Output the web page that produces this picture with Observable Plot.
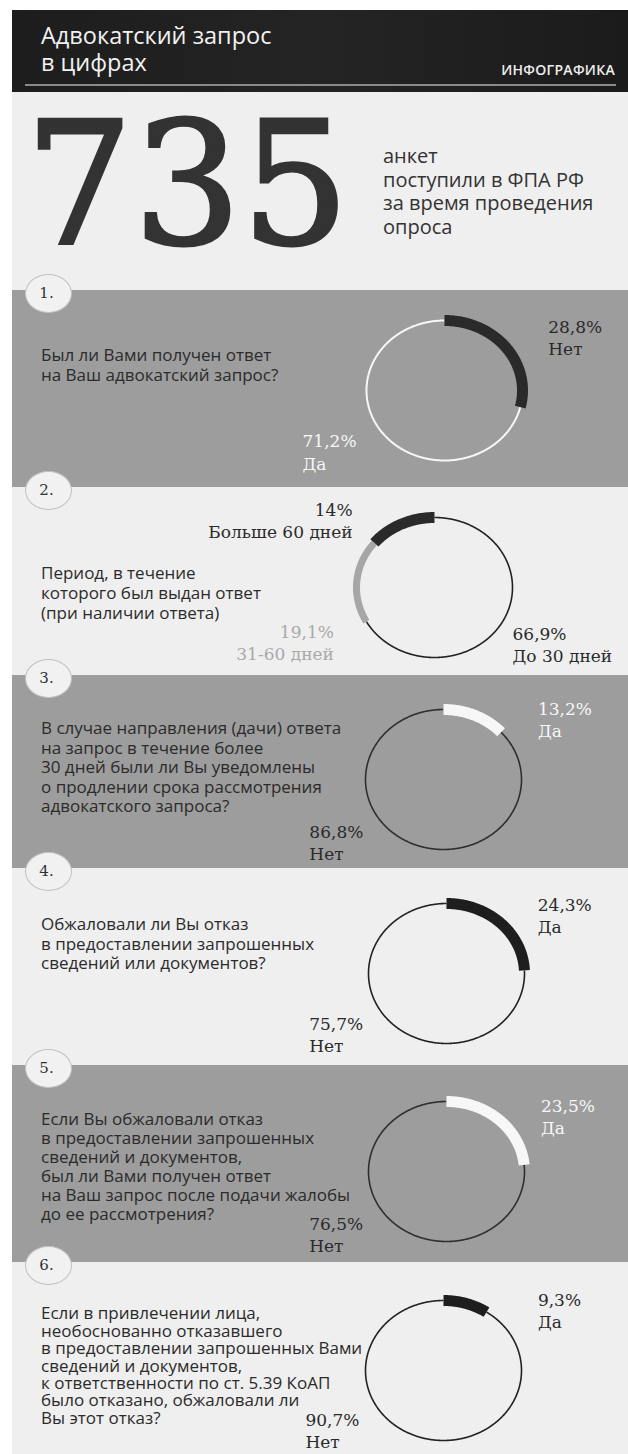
<!DOCTYPE html>
<html><head><meta charset="utf-8">
<script src="https://cdn.jsdelivr.net/npm/d3@7"></script>
<script src="https://cdn.jsdelivr.net/npm/@observablehq/plot@0.6"></script>
<style>
html,body{margin:0;padding:0;background:#fff;}
#page{position:relative;width:628px;height:1454px;overflow:hidden;background:#fff;font-family:"Open Sans",sans-serif;}
.badge{position:absolute;width:47px;height:39px;border-radius:50%;background:#f1f1f1;border:1.5px solid #c2c2c2;
  font-family:"DejaVu Serif",serif;font-size:15px;color:#333;display:flex;align-items:center;justify-content:center;z-index:5;box-sizing:border-box;padding-right:3px;}
.q{position:absolute;left:41px;font-size:17px;color:#2b2b2b;white-space:pre;z-index:3;}
</style></head><body><div id="page"></div>
<script>
// ---------- data ----------
const headerTitle = ["Адвокатский запрос", "в цифрах"];
const headerTag = "ИНФОГРАФИКА";
const totalForms = 735;
const totalCaption = ["анкет", "поступили в ФПА РФ", "за время проведения", "опроса"];
const questionNumbers = ["1.", "2.", "3.", "4.", "5.", "6."];
const questionTexts = [
  ["Был ли Вами получен ответ", "на Ваш адвокатский запрос?"],
  ["Период, в течение", "которого был выдан ответ", "(при наличии ответа)"],
  ["В случае направления (дачи) ответа", "на запрос в течение более", "30 дней были ли Вы уведомлены", "о продлении срока рассмотрения", "адвокатского запроса?"],
  ["Обжаловали ли Вы отказ", "в предоставлении запрошенных", "сведений или документов?"],
  ["Если Вы обжаловали отказ", "в предоставлении запрошенных", "сведений и документов,", "был ли Вами получен ответ", "на Ваш запрос после подачи жалобы", "до ее рассмотрения?"],
  ["Если в привлечении лица,", "необоснованно отказавшего", "в предоставлении запрошенных Вами", "сведений и документов,", "к ответственности по ст. 5.39 КоАП", "было отказано, обжаловали ли", "Вы этот отказ?"]
];
const answerLabels = [
  ["Нет", "Да"],
  ["Больше 60 дней", "31-60 дней", "До 30 дней"],
  ["Да", "Нет"],
  ["Да", "Нет"],
  ["Да", "Нет"],
  ["Да", "Нет"]
];
const answerValues = [
  [28.8, 71.2],
  [14, 19.1, 66.9],
  [13.2, 86.8],
  [24.3, 75.7],
  [23.5, 76.5],
  [9.3, 90.7]
];

// ---------- layout & styles ----------
const DARK = "#2a2a2a", WHITE = "#f7f7f7", MID = "#9d9d9d", LIGHT = "#efefef";
const layout = [
  {top:290, bottom:487, bg:MID,   cx:444, cy:390, textY:355, lh:20, dir:1,
   ring:[{color:DARK,width:11},{color:WHITE,width:2}],
   labels:[{x:1.33,y:0.77,anchor:"start",fill:DARK},{x:-1.82,y:-0.87,anchor:"start",fill:WHITE}]},
  {top:487, bottom:675, bg:LIGHT, cx:434, cy:587, textY:573, lh:20, dir:-1,
   ring:[{color:DARK,width:11},{color:"#a6a6a6",width:7},{color:"#222",width:1.6}],
   labels:[{x:-1.05,y:0.97,anchor:"end",fill:DARK},{x:-1.29,y:-0.78,anchor:"end",fill:"#a9a9a9"},{x:1.0,y:-0.8,anchor:"start",fill:DARK}]},
  {top:675, bottom:868, bg:MID,   cx:443, cy:779, textY:728, lh:19.4, dir:1,
   ring:[{color:WHITE,width:11},{color:"#2f2f2f",width:1.6}],
   labels:[{x:1.21,y:0.86,anchor:"start",fill:WHITE},{x:-1.72,y:-0.89,anchor:"start",fill:DARK}]},
  {top:868, bottom:1065, bg:LIGHT, cx:446, cy:973, textY:924, lh:19.4, dir:1,
   ring:[{color:"#1e1e1e",width:11},{color:"#222",width:1.6}],
   labels:[{x:1.17,y:0.84,anchor:"start",fill:DARK},{x:-1.76,y:-0.86,anchor:"start",fill:DARK}]},
  {top:1065, bottom:1262, bg:MID, cx:446, cy:1171, textY:1118, lh:19, dir:1,
   ring:[{color:WHITE,width:11},{color:"#2f2f2f",width:1.6}],
   labels:[{x:1.21,y:0.79,anchor:"start",fill:WHITE},{x:-1.76,y:-0.89,anchor:"start",fill:DARK}]},
  {top:1262, bottom:1454, bg:LIGHT, cx:443, cy:1370, textY:1313, lh:17.4, dir:1,
   ring:[{color:"#1e1e1e",width:11},{color:"#222",width:1.6}],
   labels:[{x:1.21,y:0.86,anchor:"start",fill:DARK},{x:-1.77,y:-0.85,anchor:"start",fill:DARK}]}
];
const RX = 78, RY = 70, LEFT = 12;

const page = document.getElementById("page");
function el(tag, css, txt) { const e = document.createElement(tag); e.style.cssText = css; if (txt != null) e.textContent = txt; page.appendChild(e); return e; }

// header
el("div", `position:absolute;left:${LEFT}px;top:10px;width:${628-LEFT}px;height:82px;background:linear-gradient(90deg,#1d1d1d,#242424 50%,#1b1b1b);`);
el("div", `position:absolute;left:41px;top:22px;font-size:23.5px;line-height:27px;color:#f2f2f2;white-space:pre;`, headerTitle.join("\n"));
el("div", `position:absolute;right:13px;top:60px;font-size:14px;line-height:20px;font-weight:600;color:#eeeeee;letter-spacing:0.3px;`, headerTag);
el("div", `position:absolute;left:25px;top:84px;width:591px;height:2px;background:#8a8a8a;`);

// intro
el("div", `position:absolute;left:${LEFT}px;top:92px;width:${628-LEFT}px;height:198px;background:${LIGHT};`);
el("div", `position:absolute;left:25px;top:100px;font-family:'DejaVu Serif',serif;font-size:170px;line-height:170px;color:#333;letter-spacing:0px;-webkit-text-stroke:3px #333;`, String(totalForms));
el("div", `position:absolute;left:383px;top:${156-11.75}px;font-size:20px;line-height:23.5px;color:#333;white-space:pre;`, totalCaption.join("\n"));

const fmt = v => String(v).replace(".", ",") + "%";

layout.forEach((sec, si) => {
  const h = sec.bottom - sec.top;
  el("div", `position:absolute;left:${LEFT}px;top:${sec.top}px;width:${628-LEFT}px;height:${h}px;background:${sec.bg};`);
  const vals = answerValues[si];
  const cum = d3.cumsum(vals);
  const segs = vals.map((v, i) => ({i, f0: (cum[i] - v) / 100, f1: cum[i] / 100, ...sec.ring[i]}))
    .sort((a, b) => a.width - b.width);
  const marks = [];
  for (const s of segs) {
    const n = Math.max(8, Math.ceil((s.f1 - s.f0) * 720));
    const pts = d3.range(n + 1).map(k => {
      const th = sec.dir * 2 * Math.PI * (s.f0 + (s.f1 - s.f0) * k / n);
      return {x: Math.sin(th), y: Math.cos(th)};
    });
    marks.push(Plot.line(pts, {x: "x", y: "y", stroke: s.color, strokeWidth: s.width, strokeLinecap: "butt", strokeLinejoin: "round", curve: "linear"}));
  }
  sec.labels.forEach((L, i) => {
    marks.push(Plot.text([{x: L.x, y: L.y, t: fmt(vals[i]) + "\n" + answerLabels[si][i]}], {
      x: "x", y: "y", text: "t", textAnchor: L.anchor, lineAnchor: "middle", lineHeight: 1.3,
      fill: L.fill, fontSize: 17, fontFamily: "DejaVu Serif"
    }));
  });
  const cx = sec.cx - LEFT, cy = sec.cy - sec.top;
  const svg = Plot.plot({
    width: 628 - LEFT, height: h, margin: 0,
    x: {domain: [-1, 1], range: [cx - RX, cx + RX], axis: null},
    y: {domain: [-1, 1], range: [cy + RY, cy - RY], axis: null},
    style: {background: "none", overflow: "visible"},
    marks
  });
  svg.style.position = "absolute"; svg.style.left = LEFT + "px"; svg.style.top = sec.top + "px"; svg.style.zIndex = 2;
  page.appendChild(svg);
  const q = el("div", "", questionTexts[si].join("\n"));
  q.className = "q";
  q.style.top = (sec.textY - sec.lh / 2) + "px";
  q.style.lineHeight = sec.lh + "px";
  const b = el("div", "", questionNumbers[si]);
  b.className = "badge";
  b.style.left = (48 - 23.5) + "px"; b.style.top = (sec.top + 3 - 19.5) + "px";
});
</script>
</body></html>
